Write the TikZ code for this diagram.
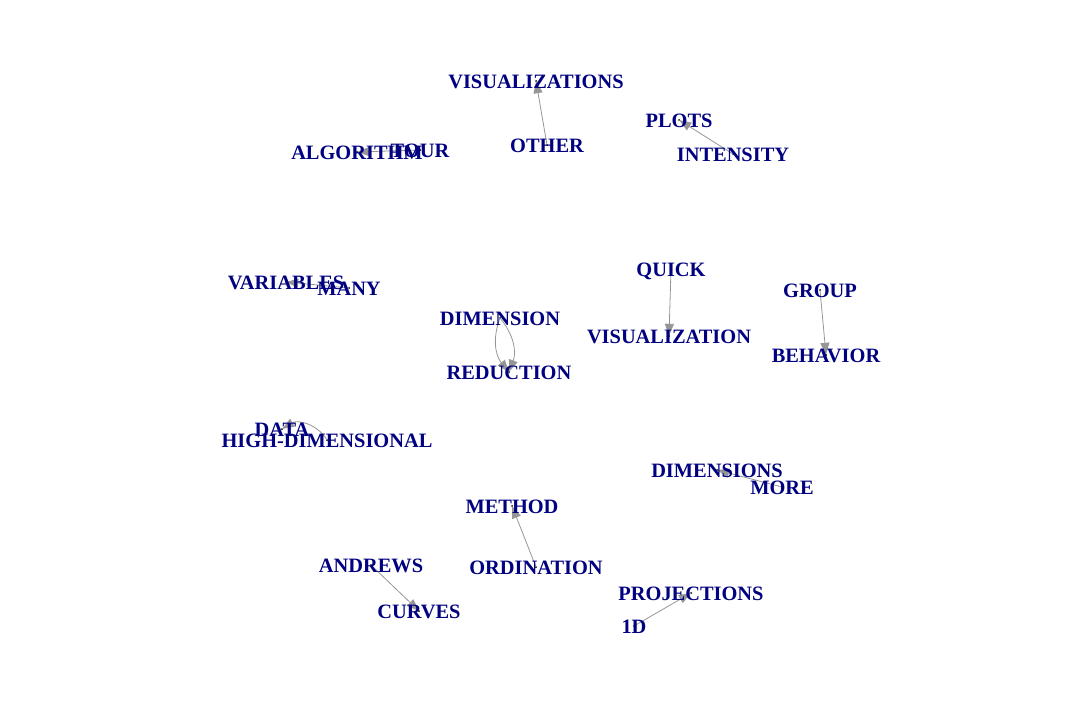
\documentclass[tikz,border=0pt]{standalone}
\usepackage{fontspec}
\setmainfont{Liberation Serif}
\usepackage{xcolor}
\usepackage{tikz}
\usetikzlibrary{arrows.meta}

\definecolor{lblnavy}{RGB}{0,0,128}
\definecolor{edgegray}{RGB}{150,150,150}

\begin{document}
\begin{tikzpicture}[
  x=1pt, y=-1pt,
  font=\fontsize{20.4}{24}\selectfont\bfseries,
  >={Triangle[length=12pt,width=9pt]},
  vtx/.style={circle, fill=black, inner sep=0pt, minimum size=2pt},
  lbl/.style={text=lblnavy, inner sep=0pt, text height=15pt, text depth=0pt},
  edge/.style={->, draw=edgegray, line width=0.8pt, shorten <=-1pt, shorten >=-1pt},
]
\useasboundingbox (0,0) rectangle (1080,720);
% vertices
\node[vtx] (visualizations) at (536,81) {};
\node[vtx] (other) at (547,145) {};
\node[vtx] (plots) at (679,120) {};
\node[vtx] (intensity) at (733,154) {};
\node[vtx] (algorithm) at (357,152) {};
\node[vtx] (tour) at (420,150) {};
\node[vtx] (variables) at (286,282) {};
\node[vtx] (many) at (349,288) {};
\node[vtx] (quick) at (671,269) {};
\node[vtx] (visualization) at (669,336) {};
\node[vtx] (group) at (820,290) {};
\node[vtx] (behavior) at (826,355) {};
\node[vtx] (dimension) at (500,318) {};
\node[vtx] (reduction) at (509,372) {};
\node[vtx] (data) at (282,429) {};
\node[vtx] (highdim) at (327,440) {};
\node[vtx] (dimensions) at (717,470) {};
\node[vtx] (more) at (782,487) {};
\node[vtx] (method) at (512,506) {};
\node[vtx] (ordination) at (536,567) {};
\node[vtx] (andrews) at (371,565) {};
\node[vtx] (curves) at (419,611) {};
\node[vtx] (projections) at (691,593) {};
\node[vtx] (oned) at (634,626) {};
% edges
\draw[edge] (other) -- (visualizations);
\draw[edge] (intensity) -- (plots);
\draw[edge] (tour) -- (algorithm);
\draw[edge] (many) -- (variables);
\draw[edge] (quick) -- (visualization);
\draw[edge] (group) -- (behavior);
\draw[edge] (dimension) to[bend left=30] (reduction);
\draw[edge] (dimension) to[bend right=30] (reduction);
\draw[edge] (highdim) to[bend right=45] (data);
\draw[edge] (more) -- (dimensions);
\draw[edge] (ordination) -- (method);
\draw[edge] (andrews) -- (curves);
\draw[edge] (oned) -- (projections);
% labels
\node[lbl] (visualizations-l) at (visualizations) {VISUALIZATIONS};
\node[lbl] (other-l) at (other) {OTHER};
\node[lbl] (plots-l) at (plots) {PLOTS};
\node[lbl] (intensity-l) at (intensity) {INTENSITY};
\node[lbl] (algorithm-l) at (algorithm) {ALGORITHM};
\node[lbl] (tour-l) at (tour) {TOUR};
\node[lbl] (variables-l) at (variables) {VARIABLES};
\node[lbl] (many-l) at (many) {MANY};
\node[lbl] (quick-l) at (quick) {QUICK};
\node[lbl] (visualization-l) at (visualization) {VISUALIZATION};
\node[lbl] (group-l) at (group) {GROUP};
\node[lbl] (behavior-l) at (behavior) {BEHAVIOR};
\node[lbl] (dimension-l) at (dimension) {DIMENSION};
\node[lbl] (reduction-l) at (reduction) {REDUCTION};
\node[lbl] (data-l) at (data) {DATA};
\node[lbl] (highdim-l) at (highdim) {HIGH-DIMENSIONAL};
\node[lbl] (dimensions-l) at (dimensions) {DIMENSIONS};
\node[lbl] (more-l) at (more) {MORE};
\node[lbl] (method-l) at (method) {METHOD};
\node[lbl] (ordination-l) at (ordination) {ORDINATION};
\node[lbl] (andrews-l) at (andrews) {ANDREWS};
\node[lbl] (curves-l) at (curves) {CURVES};
\node[lbl] (projections-l) at (projections) {PROJECTIONS};
\node[lbl] (oned-l) at (oned) {1D};
\end{tikzpicture}
\end{document}
